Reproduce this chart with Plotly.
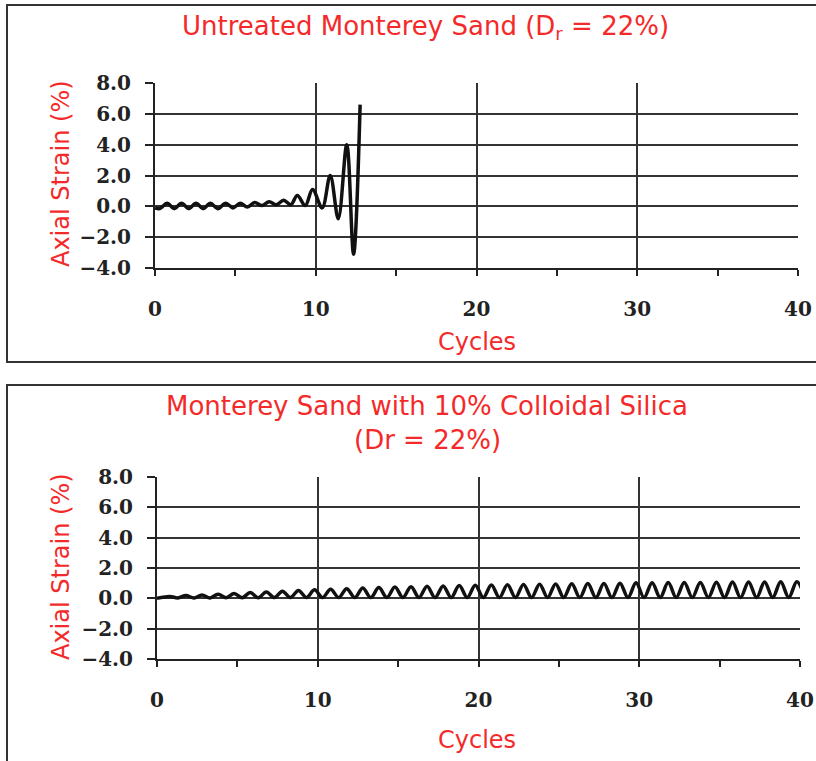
import plotly.graph_objects as go

# ---- Untreated Monterey Sand: peak / trough strain per half cycle ----
untreated_cycles = [0.0, 0.3, 0.75, 1.2, 1.65, 2.1, 2.55, 3.0, 3.45, 3.9, 4.4,
                    4.85, 5.3, 5.75, 6.2, 6.65, 7.1, 7.55, 8.0, 8.45, 8.85,
                    9.35, 9.8, 10.4, 10.9, 11.4, 11.93, 12.35, 12.76]
untreated_strain = [-0.1, -0.15, 0.2, -0.15, 0.2, -0.15, 0.2, -0.15, 0.2, -0.15, 0.2,
                    -0.1, 0.2, -0.05, 0.25, 0.05, 0.3, 0.1, 0.4, 0.1, 0.7,
                    0.05, 1.1, -0.1, 2.0, -0.8, 4.0, -3.1, 6.6]

# ---- Monterey Sand with 10% colloidal silica ----
treated_peak_cycles = [0.8, 1.8, 2.8, 3.8, 4.8, 5.8, 6.8, 7.8, 8.8, 9.8,
                       10.8, 11.8, 12.8, 13.8, 14.8, 15.8, 16.8, 17.8, 18.8, 19.8,
                       20.8, 21.8, 22.8, 23.8, 24.8, 25.8, 26.8, 27.8, 28.8, 29.8,
                       30.8, 31.8, 32.8, 33.8, 34.8, 35.8, 36.8, 37.8, 38.8, 39.8]
treated_peak_strain = [0.12, 0.18, 0.22, 0.27, 0.32, 0.38, 0.42, 0.47, 0.52, 0.56,
                       0.6, 0.64, 0.68, 0.71, 0.74, 0.77, 0.8, 0.82, 0.85, 0.87,
                       0.88, 0.9, 0.92, 0.93, 0.95, 0.96, 0.97, 0.98, 1.0, 1.02,
                       1.03, 1.04, 1.05, 1.05, 1.06, 1.07, 1.08, 1.08, 1.1, 1.1]
treated_trough_cycles = [0.0, 1.3, 2.3, 3.3, 4.3, 5.3, 6.3, 7.3, 8.3, 9.3,
                         10.3, 11.3, 12.3, 13.3, 14.3, 15.3, 16.3, 17.3, 18.3, 19.3,
                         20.3, 21.3, 22.3, 23.3, 24.3, 25.3, 26.3, 27.3, 28.3, 29.3,
                         30.3, 31.3, 32.3, 33.3, 34.3, 35.3, 36.3, 37.3, 38.3, 39.3, 40.3]
treated_trough_strain = [0.0, 0.03, 0.03, 0.03, 0.04, 0.04, 0.04, 0.05, 0.05, 0.05,
                         0.05, 0.05, 0.05, 0.05, 0.05, 0.05, 0.05, 0.05, 0.05, 0.05,
                         0.05, 0.05, 0.05, 0.05, 0.05, 0.05, 0.05, 0.05, 0.05, 0.05,
                         0.05, 0.05, 0.05, 0.05, 0.05, 0.05, 0.05, 0.05, 0.05, 0.05, 0.05]

x_ticks = [0, 10, 20, 30, 40]
y_ticks = [-4.0, -2.0, 0.0, 2.0, 4.0, 6.0, 8.0]

# interleave troughs and peaks into one continuous trace
treated_cycles, treated_strain = [], []
for i, (tc, ts) in enumerate(zip(treated_trough_cycles, treated_trough_strain)):
    treated_cycles.append(tc)
    treated_strain.append(ts)
    if i < len(treated_peak_cycles):
        treated_cycles.append(treated_peak_cycles[i])
        treated_strain.append(treated_peak_strain[i])

W, H = 816, 761
RED = "#f42a2a"
INK = "#222222"
GRID = "#333333"


def fx(p):
    return p / W


def fy(p):
    return 1 - p / H


fig = go.Figure()
fig.add_trace(go.Scatter(x=untreated_cycles, y=untreated_strain, mode="lines",
                         line=dict(color="#111111", width=3.5, shape="spline", smoothing=1),
                         xaxis="x", yaxis="y", showlegend=False, hoverinfo="skip"))
fig.add_trace(go.Scatter(x=treated_cycles, y=treated_strain, mode="lines",
                         line=dict(color="#111111", width=3.5, shape="spline", smoothing=1),
                         xaxis="x2", yaxis="y2", showlegend=False, hoverinfo="skip"))

tick_font = dict(family="DejaVu Serif", size=20, color=INK, weight="bold")

xcommon = dict(range=[0, 40], tickvals=x_ticks, ticktext=[str(v) for v in x_ticks],
               ticks="outside", ticklen=6, tickwidth=1.5, tickcolor=INK,
               showline=True, linecolor=INK, linewidth=2,
               showgrid=True, gridcolor=GRID, gridwidth=1.5, zeroline=False,
               minor=dict(tickvals=[5, 15, 25, 35], ticks="outside", ticklen=6,
                          tickwidth=1.5, tickcolor=INK, showgrid=False),
               tickfont=tick_font, ticklabelstandoff=16, automargin=False,
               fixedrange=True)
ycommon = dict(range=[-4, 8], tickvals=y_ticks, tickformat=".1f",
               ticks="outside", ticklen=8, tickwidth=1.5, tickcolor=INK,
               showline=True, linecolor=INK, linewidth=2,
               showgrid=True, gridcolor=GRID, gridwidth=1.5, zeroline=False,
               tickfont=tick_font, ticklabelstandoff=10, automargin=False,
               fixedrange=True)

fig.update_layout(
    width=W, height=H,
    margin=dict(l=0, r=0, t=0, b=0, pad=0),
    paper_bgcolor="white", plot_bgcolor="white",
    xaxis=dict(domain=[fx(155), fx(798)], anchor="y", **xcommon),
    yaxis=dict(domain=[fy(268), fy(83)], anchor="x", **ycommon),
    xaxis2=dict(domain=[fx(157), fx(800)], anchor="y2", **xcommon),
    yaxis2=dict(domain=[fy(659), fy(477)], anchor="x2", **ycommon),
)

title_font = dict(family="DejaVu Sans", size=26, color=RED)
label_font = dict(family="DejaVu Sans", size=24, color=RED)


def note(text, x, y, font, angle=0):
    fig.add_annotation(text=text, x=fx(x), y=fy(y), xref="paper", yref="paper",
                       xanchor="center", yanchor="middle", showarrow=False,
                       font=font, textangle=angle)


note("Untreated Monterey Sand (D<sub>r</sub> = 22%)", 425, 28, title_font)
note("Axial Strain (%)", 61, 174, label_font, -90)
note("Cycles", 477, 342, label_font)

note("Monterey Sand with 10% Colloidal Silica", 427, 406, title_font)
note("(Dr = 22%)", 427, 440, title_font)
note("Axial Strain (%)", 61, 567, label_font, -90)
note("Cycles", 477, 740, label_font)

# panel frames
frame = dict(color="#333333", width=2)
fig.add_shape(type="rect", xref="paper", yref="paper",
              x0=fx(7), x1=1.05, y0=fy(362), y1=fy(5), line=frame)
fig.add_shape(type="rect", xref="paper", yref="paper",
              x0=fx(7), x1=1.05, y0=-0.05, y1=fy(385), line=frame)

fig.write_html("out.html")
